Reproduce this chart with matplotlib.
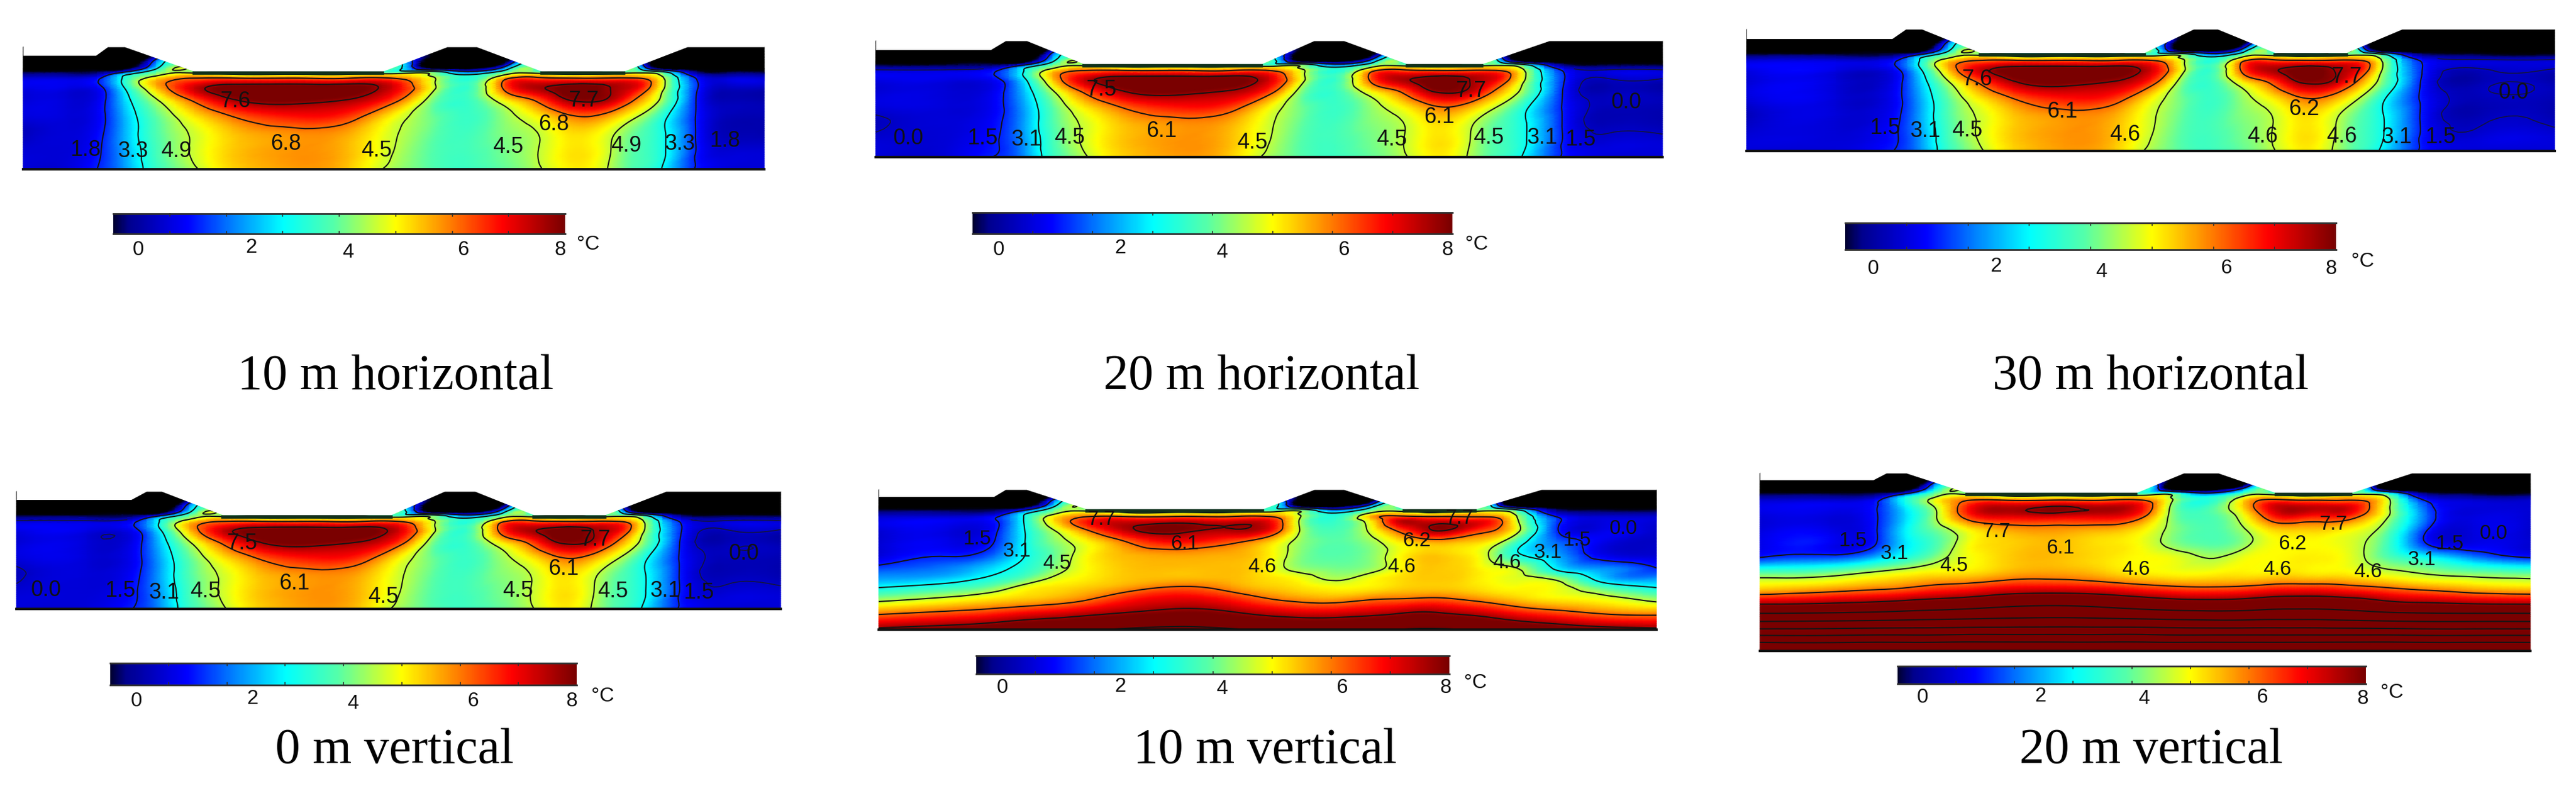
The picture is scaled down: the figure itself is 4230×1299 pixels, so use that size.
import numpy as np
import matplotlib
matplotlib.use("Agg")
import matplotlib.pyplot as plt
import matplotlib.tri as mtri
from matplotlib.colors import LinearSegmentedColormap, Normalize

plt.rcParams["font.family"] = ["Liberation Sans", "DejaVu Sans"]

# temperature columns, as fractions of the width of the 20 m horizontal panel
columns = [0, .09, .148, .19, .225, .265, .31, .38, .45, .50, .54, .585, .63, .665, .70, .725, .755, .79, .824, .875, .93, 1]

rows_h = [0, .10, .17, .205, .225, .25, .28, .35, .45, .58, .72, .88, 1]
T_horizontal = [
    [-3] * 22,
    [-3, -3, -3, -3, 1.5, 3.0, 0, 0, 0, 3.0, -1, -3, -1, 3.0, 0, 0, 3.0, 2.0, -3, -3, -3, -3],
    [-1, -1, -1, -.8, 2.8, 4.0, 0, 0, 0, 4.0, -.8, -1, 2.0, 4.0, 0, 0, 4.0, 3.2, -1, -1, -1, -1],
    [0, 0, .1, 1.3, 3.9, 4.2, 3.2, 3.2, 3.2, 3.6, 3.8, 1.8, 3.8, 4.2, 3.2, 3.2, 3.6, 4.2, 3.2, .2, 0, 0],
    [.3, .3, .5, 2.7, 4.3, 5.2, 4.7, 4.7, 4.7, 5.0, 4.5, 3.0, 4.5, 5.2, 4.7, 4.7, 5.0, 5.2, 4.2, .7, .3, .3],
    [.8, .8, 1.2, 3.2, 5.0, 6.0, 5.9, 5.9, 5.9, 5.9, 4.8, 3.4, 5.5, 6.2, 5.9, 5.9, 6.0, 5.9, 4.6, 1.3, .8, .8],
    [1.15, 1.15, 1.45, 3.3, 5.6, 6.6, 7.0, 7.0, 7.0, 6.8, 4.9, 3.5, 6.3, 7.0, 7.0, 7.0, 7.0, 6.8, 4.8, 1.5, 1.0, 1.0],
    [1.0, 1.0, 1.15, 2.9, 5.3, 7.3, 8.2, 8.4, 8.2, 7.2, 4.9, 3.6, 6.2, 7.4, 8.1, 8.3, 7.7, 6.8, 4.6, 1.5, .65, .6],
    [.95, .95, 1.15, 2.6, 4.4, 6.1, 7.4, 7.9, 7.5, 6.3, 4.2, 3.6, 4.9, 5.9, 7.3, 7.7, 7.3, 5.7, 4.2, 1.4, .65, .6],
    [.95, .95, 1.2, 2.4, 3.9, 5.1, 6.0, 6.7, 6.4, 5.0, 4.1, 3.6, 4.3, 4.9, 5.7, 6.0, 5.5, 4.5, 3.3, 1.4, .65, .6],
    [.68, .95, 1.3, 2.4, 3.8, 4.7, 5.4, 5.8, 5.6, 4.7, 4.0, 3.7, 4.2, 4.5, 5.1, 5.2, 4.7, 3.9, 3.2, 1.4, .65, .6],
    [.95, .95, 1.4, 2.3, 3.7, 4.7, 5.4, 5.8, 5.5, 4.6, 3.9, 3.7, 4.1, 4.5, 5.1, 5.2, 4.6, 3.8, 3.2, 1.4, .95, .95],
    [.95, .95, 1.5, 2.2, 3.6, 4.5, 5.3, 5.7, 5.4, 4.4, 3.9, 3.6, 4.0, 4.4, 5.0, 5.1, 4.5, 3.7, 3.0, 1.4, .95, .95],
]

rows_v10 = [0, .07, .115, .145, .165, .19, .23, .30, .38, .47, .56, .63, .70, .78, .88, 1]
T_v10 = [
    [-3] * 22,
    [-3, -3, -3, -3, 1.5, 3.0, 0, 0, 0, 3.0, -1, -3, -1, 3.0, 0, 0, 3.0, 2.0, -3, -3, -3, -3],
    [-1, -1, -1, -.8, 2.8, 4.0, 0, 0, 0, 4.0, -.8, -1, 2.0, 4.0, 0, 0, 4.0, 3.2, -1, -1, -1, -1],
    [0, 0, .1, 1.3, 3.9, 4.2, 3.2, 3.2, 3.2, 3.6, 3.8, 1.8, 3.8, 4.2, 3.2, 3.2, 3.6, 4.2, 3.2, .2, 0, 0],
    [.3, .3, .5, 2.7, 4.3, 5.2, 4.7, 4.7, 4.7, 5.0, 4.5, 3.0, 4.5, 5.2, 4.7, 4.7, 5.0, 5.2, 4.2, .7, .3, .3],
    [.8, .8, 1.3, 3.2, 5.0, 6.0, 6.0, 6.0, 6.0, 6.0, 4.6, 3.4, 5.5, 6.2, 6.0, 6.0, 6.0, 5.9, 4.6, 1.4, .8, .8],
    [1.1, 1.2, 1.4, 3.2, 5.2, 6.8, 7.3, 7.5, 7.3, 7.0, 4.4, 3.6, 5.0, 7.2, 7.4, 7.4, 7.2, 6.8, 4.8, 1.7, 1.0, .9],
    [.9, 1.0, 1.4, 3.1, 4.5, 5.9, 7.2, 7.9, 7.5, 6.8, 4.5, 3.8, 4.7, 6.0, 7.2, 7.6, 6.9, 6.1, 4.8, 1.6, 1.1, .8],
    [.9, 1.1, 1.55, 3.1, 4.2, 5.0, 5.9, 6.8, 6.2, 5.3, 4.3, 3.9, 4.3, 5.0, 5.5, 5.6, 5.4, 5.0, 3.6, 2.0, 1.15, .8],
    [.95, 1.45, 2.0, 3.1, 4.0, 5.0, 5.5, 5.7, 5.6, 5.1, 4.2, 3.9, 4.2, 4.9, 5.4, 5.4, 5.2, 4.5, 3.3, 2.4, 1.2, .9],
    [1.7, 2.1, 2.8, 3.4, 4.2, 5.0, 5.4, 5.5, 5.5, 5.0, 4.3, 4.1, 4.3, 4.9, 5.4, 5.4, 5.3, 4.9, 4.6, 2.9, 2.2, 1.5],
    [2.3, 2.6, 3.3, 3.9, 4.7, 5.1, 5.4, 5.5, 5.5, 5.2, 4.9, 4.45, 4.9, 5.2, 5.4, 5.4, 5.3, 5.0, 4.8, 4.3, 2.7, 2.2],
    [3.1, 3.6, 4.2, 4.9, 5.2, 5.4, 5.7, 6.2, 5.8, 5.4, 5.2, 5.0, 5.1, 5.3, 5.4, 5.4, 5.3, 5.1, 5.0, 4.9, 3.9, 3.1],
    [4.3, 4.8, 5.2, 5.4, 5.6, 6.0, 6.6, 7.1, 6.7, 6.1, 5.8, 5.7, 6.0, 6.1, 6.2, 6.2, 6.0, 5.7, 5.4, 5.1, 4.9, 4.3],
    [5.9, 6.3, 6.6, 6.9, 7.1, 7.4, 7.7, 8.0, 7.8, 7.4, 7.2, 7.2, 7.4, 7.6, 7.8, 7.7, 7.5, 7.2, 6.8, 6.4, 6.0, 5.8],
    [7.9, 8.2, 8.5, 8.7, 8.9, 9.1, 9.3, 9.5, 9.3, 9.1, 9.0, 8.9, 9.1, 9.2, 9.3, 9.3, 9.2, 9.0, 8.7, 8.4, 8.1, 7.9],
]

rows_v20 = [0, .055, .09, .115, .13, .15, .18, .24, .32, .40, .48, .56, .64, .72, .82, .91, 1]
T_v20 = [
    [-3] * 22,
    [-3, -3, -3, -3, 1.5, 3.0, 0, 0, 0, 3.0, -1, -3, -1, 3.0, 0, 0, 3.0, 2.0, -3, -3, -3, -3],
    [-1, -1, -1, -.8, 2.8, 4.0, 0, 0, 0, 4.0, -.8, -1, 2.0, 4.0, 0, 0, 4.0, 3.2, -1, -1, -1, -1],
    [0, 0, .1, 1.3, 3.9, 4.2, 3.2, 3.2, 3.2, 3.6, 3.8, 1.8, 3.8, 4.2, 3.2, 3.2, 3.6, 4.2, 3.2, .2, 0, 0],
    [.3, .3, .5, 2.7, 4.3, 5.2, 4.7, 4.7, 4.7, 5.0, 4.5, 3.0, 4.5, 5.2, 4.7, 4.7, 5.0, 5.2, 4.2, .7, .3, .3],
    [.8, .8, 1.2, 3.2, 4.8, 6.0, 6.0, 6.0, 6.0, 6.0, 4.6, 3.4, 5.2, 6.2, 6.0, 6.0, 6.0, 5.9, 4.6, 1.3, .8, .8],
    [1.1, 1.2, 1.4, 3.0, 4.6, 6.6, 7.3, 7.5, 7.3, 6.8, 4.4, 3.6, 5.4, 7.0, 7.3, 7.2, 7.1, 6.4, 4.6, 1.7, 1.0, .9],
    [1.0, 1.0, 1.4, 2.7, 4.3, 6.5, 7.2, 7.3, 7.2, 6.3, 4.3, 3.8, 4.9, 6.5, 7.1, 6.8, 6.9, 5.9, 4.5, 1.9, 1.0, .9],
    [1.0, 1.1, 1.4, 2.9, 4.0, 5.0, 5.6, 5.8, 5.6, 5.1, 4.3, 3.8, 4.4, 5.2, 5.4, 5.4, 5.2, 4.8, 3.9, 1.5, 1.0, .85],
    [1.1, 1.2, 1.45, 2.8, 3.7, 4.9, 5.3, 5.5, 5.2, 4.9, 4.3, 3.9, 4.3, 4.9, 5.0, 5.0, 4.9, 4.5, 3.6, 1.5, 1.1, .9],
    [1.6, 1.9, 2.6, 3.4, 4.2, 4.9, 5.3, 5.5, 5.2, 5.0, 4.9, 4.5, 4.9, 5.0, 5.1, 5.1, 5.0, 4.5, 3.9, 3.2, 2.3, 1.6],
    [3.9, 4.1, 4.6, 4.9, 5.1, 5.2, 5.5, 5.7, 5.4, 5.1, 5.0, 5.0, 5.1, 5.1, 5.2, 5.1, 5.1, 4.9, 4.7, 4.4, 4.1, 3.9],
    [5.2, 5.5, 5.8, 6.0, 6.3, 6.5, 6.8, 6.9, 6.7, 6.4, 6.2, 6.1, 6.2, 6.4, 6.5, 6.5, 6.4, 6.2, 6.0, 5.7, 5.4, 5.2],
    [7.2, 7.4, 7.6, 7.8, 8.0, 8.2, 8.5, 8.7, 8.5, 8.2, 8.0, 7.9, 8.0, 8.2, 8.3, 8.3, 8.2, 8.0, 7.7, 7.5, 7.3, 7.2],
    [10.2, 10.3, 10.4, 10.5, 10.6, 10.7, 10.8, 10.9, 10.8, 10.7, 10.6, 10.5, 10.5, 10.6, 10.6, 10.6, 10.5, 10.4, 10.3, 10.2, 10.2, 10.2],
    [13.7, 13.7, 13.8, 13.8, 13.8, 13.9, 13.9, 13.9, 13.9, 13.9, 13.8, 13.8, 13.8, 13.8, 13.8, 13.8, 13.8, 13.8, 13.8, 13.7, 13.7, 13.7],
    [16.9] * 22,
]

levels_main = [1.5, 3.1, 4.6, 6.1, 7.7, 9.2]
levels_deep = [1.5, 4.5, 6.1, 7.7, 9.2, 10.7, 12.3, 13.8, 15.3]
level_cold = .78

# terrain break points as fractions of panel width; the first set is the reference
land_ref = [0, .146, .165, .192, .265, .49, .557, .595, .676, .77, .856, 1]

captions = ["10 m horizontal", "20 m horizontal", "30 m horizontal", "0 m vertical", "10 m vertical", "20 m vertical"]
tick_names = ["0", "2", "4", "6", "8"]

labels_1 = ["1.8", "3.3", "4.9", "7.6", "6.8", "4.5", "7.7", "6.8", "4.5", "4.9", "3.3", "1.8"]
labels_2 = ["1.5", "3.1", "4.5", "7.5", "6.1", "4.5", "7.7", "6.1", "4.5", "4.5", "3.1", "1.5", "0.0", "0.0"]
labels_3 = ["1.5", "3.1", "4.5", "7.6", "6.1", "4.6", "4.6", "6.2", "7.7", "4.6", "3.1", "1.5", "0.0"]
labels_4 = ["0.0", "1.5", "3.1", "4.5", "7.5", "6.1", "4.5", "7.7", "6.1", "4.5", "4.5", "3.1", "1.5", "0.0"]
labels_5 = ["1.5", "3.1", "4.5", "7.7", "6.1", "4.6", "4.6", "6.2", "7.7", "4.6", "3.1", "1.5", "0.0"]
labels_6 = ["1.5", "3.1", "4.5", "7.7", "6.1", "4.6", "4.6", "6.2", "7.7", "4.6", "3.1", "1.5", "0.0"]

panels = [
    dict(box=(38, 77, 1255, 278), T=T_horizontal, rows=rows_h, levels=levels_main, cold_from=None, size=26,
         land=[0, .098, .114, .137, .231, .485, .572, .612, .70, .81, .896, 1], pond=.2, bench=.07,
         bar=(186, 351, 928, 384), labels=labels_1,
         lab_xy=[(140, 246), (219, 248), (289, 248), (386, 166), (469, 236), (618, 247), (958, 165), (909, 204), (834, 241), (1028, 239), (1117, 236), (1190, 231)],
         tick_xy=[(227, 410), (413, 406), (572, 414), (761, 410), (920, 410)], unit_xy=(966, 401), cap_xy=(650, 619)),
    dict(box=(1438, 67, 2730, 258), T=T_horizontal, rows=rows_h, levels=levels_main, cold_from=0, size=26,
         land=land_ref, pond=.2, bench=.077,
         bar=(1597, 349, 2385, 384), labels=labels_2,
         lab_xy=[(1613, 227), (1686, 229), (1756, 226), (1808, 147), (1907, 215), (2056, 234), (2415, 149), (2363, 192), (2285, 229), (2444, 226), (2533, 226), (2595, 229), (2671, 168), (1492, 227)],
         tick_xy=[(1640, 410), (1840, 407), (2007, 414), (2207, 410), (2377, 410)], unit_xy=(2425, 401), cap_xy=(2072, 619)),
    dict(box=(2868, 48, 4195, 248), T=T_horizontal, rows=rows_h, levels=levels_main, cold_from=.5, size=26,
         land=[0, .18, .197, .217, .289, .492, .553, .583, .654, .742, .811, 1], pond=.193, bench=.078,
         bar=(3030, 366, 3836, 410), labels=labels_3,
         lab_xy=[(3095, 210), (3162, 215), (3230, 214), (3246, 130), (3386, 183), (3489, 221), (3715, 224), (3783, 179), (3853, 126), (3845, 224), (3936, 225), (4007, 225), (4128, 152)],
         tick_xy=[(3076, 441), (3278, 437), (3451, 446), (3656, 440), (3828, 441)], unit_xy=(3880, 429), cap_xy=(3532, 619)),
    dict(box=(27, 807, 1282, 1000), T=T_horizontal, rows=rows_h, levels=levels_main, cold_from=0, size=26,
         land=[0, .15, .17, .19, .27, .49, .56, .60, .677, .77, .85, 1], pond=.2, bench=.07,
         bar=(181, 1089, 947, 1125), labels=labels_4,
         lab_xy=[(76, 969), (197, 970), (270, 973), (337, 971), (397, 892), (483, 958), (629, 980), (977, 886), (925, 934), (850, 970), (1006, 971), (1093, 970), (1147, 973), (1222, 909)],
         tick_xy=[(224, 1152), (415, 1148), (580, 1155), (777, 1152), (939, 1152)], unit_xy=(990, 1143), cap_xy=(648, 1233)),
    dict(box=(1443, 804, 2720, 1034), T=T_v10, rows=rows_v10, levels=levels_main, cold_from=None, size=24,
         land=[0, .148, .163, .19, .268, .493, .56, .598, .676, .767, .852, 1], pond=.14, bench=.05,
         bar=(1603, 1077, 2380, 1107), labels=labels_5,
         lab_xy=[(1605, 885), (1670, 905), (1735, 925), (1808, 853), (1945, 893), (2072, 931), (2301, 931), (2326, 888), (2396, 851), (2474, 924), (2542, 907), (2590, 887), (2666, 868)],
         tick_xy=[(1646, 1130), (1840, 1127), (2007, 1132), (2204, 1130), (2374, 1130)], unit_xy=(2423, 1121), cap_xy=(2077, 1233)),
    dict(box=(2890, 777, 4155, 1069), T=T_v20, rows=rows_v20, levels=levels_deep, cold_from=None, size=24,
         land=[0, .147, .164, .19, .269, .488, .55, .595, .67, .767, .846, 1], pond=.111, bench=.038,
         bar=(3116, 1094, 3885, 1123), labels=labels_6,
         lab_xy=[(3043, 888), (3111, 909), (3208, 929), (3278, 873), (3383, 900), (3507, 935), (3739, 935), (3764, 893), (3831, 861), (3888, 939), (3977, 919), (4023, 893), (4095, 876)],
         tick_xy=[(3157, 1146), (3351, 1143), (3521, 1148), (3715, 1146), (3880, 1147)], unit_xy=(3928, 1138), cap_xy=(3532, 1233)),
]

# colour scale of the temperature bar, below zero it runs out to black
vmin, vmax = -.6, 8.0
anchors = [(-.6, "#000000"), (-.1, "#000010"), (.25, "#00008c"), (1.3, "#0000ff"), (2.1, "#0080ff"),
           (3.0, "#00ffff"), (3.9, "#55ffaa"), (5.0, "#ffff00"), (5.75, "#ff9c00"), (6.9, "#ff0000"), (8.0, "#7a0000")]
cmap = LinearSegmentedColormap.from_list("temp", [((v - vmin) / (vmax - vmin), c) for v, c in anchors], N=512)
norm = Normalize(vmin, vmax)

fig = plt.figure(figsize=(42.3, 12.99), dpi=100)
ax = fig.add_axes([0, 0, 1, 1])


def draw_panel(p):
    x0, y0, x1, y1 = p["box"]
    w, h = x1 - x0, y1 - y0
    xs = x0 + w * np.interp(columns, land_ref, p["land"])
    ys = y0 + h * np.array(p["rows"])
    gx, gy = np.meshgrid(xs, ys)
    nx, ny = len(xs), len(ys)
    tris = []
    for j in range(ny - 1):
        for i in range(nx - 1):
            a = j * nx + i
            tris.append([a, a + 1, a + nx])
            tris.append([a + 1, a + nx + 1, a + nx])
    tri = mtri.Triangulation(gx.ravel(), gy.ravel(), tris)
    refiner = mtri.UniformTriRefiner(tri)
    fine, z = refiner.refine_field(np.array(p["T"], dtype=float).ravel(), subdiv=3)
    ax.tripcolor(fine, z, shading="gouraud", cmap=cmap, norm=norm, zorder=1)
    ax.tricontour(fine, z, levels=p["levels"], colors="#141414", linewidths=1.5, zorder=2)

    # the coldest contour only shows below the surface layer
    if p["cold_from"] is not None:
        cy = fine.y[fine.triangles].mean(axis=1)
        cx = fine.x[fine.triangles].mean(axis=1)
        mask = (cy < y0 + .24 * h) | (cx < x0 + p["cold_from"] * w)
        cold = mtri.Triangulation(fine.x, fine.y, fine.triangles, mask=mask)
        ax.tricontour(cold, z, levels=[level_cold], colors="#141440", linewidths=1.2, zorder=2)

    # white sky above the ground surface
    lx = x0 + w * np.array(p["land"])
    b, d = p["bench"], p["pond"]
    ly = y0 + h * np.array([b, b, 0, 0, d, d, 0, 0, d, d, 0, 0])
    ax.fill_between(lx, y0 - 3, ly, color="white", lw=0, zorder=3)
    ax.plot(lx[4:6], ly[4:6] + 3, color="#10301a", lw=4, zorder=4)
    ax.plot(lx[8:10], ly[8:10] + 3, color="#10301a", lw=4, zorder=4)
    ax.plot([x0, x1], [y1, y1], color="#101010", lw=3, zorder=4)

    for s, (tx, ty) in zip(p["labels"], p["lab_xy"]):
        ax.text(tx, ty, s, fontsize=p["size"], ha="center", va="center", color="#111111", zorder=5)


def draw_bar(p):
    bx0, by0, bx1, by1 = p["bar"]
    grad = np.linspace(0, 8, 512).reshape(1, -1)
    ax.imshow(grad, extent=(bx0, bx1, by1, by0), aspect="auto", cmap=cmap, norm=norm, zorder=1)
    ax.plot([bx0, bx1], [by0, by0], color="#303030", lw=2, zorder=2)
    ax.plot([bx0, bx1], [by1, by1], color="#303030", lw=2, zorder=2)
    for k in range(1, 8):
        bx = bx0 + (bx1 - bx0) * k / 8
        ax.plot([bx, bx], [by0, by0 + 4], color="#303030", lw=1.2, zorder=2)
        ax.plot([bx, bx], [by1 - 4, by1], color="#303030", lw=1.2, zorder=2)
    for s, (tx, ty) in zip(tick_names, p["tick_xy"]):
        ax.text(tx, ty, s, fontsize=24, ha="center", va="center", color="#111111")
    ax.text(p["unit_xy"][0], p["unit_xy"][1], "°C", fontsize=24, ha="center", va="center", color="#111111")


for p, cap in zip(panels, captions):
    draw_panel(p)
    draw_bar(p)
    ax.text(p["cap_xy"][0], p["cap_xy"][1], cap, fontsize=59, family=["Liberation Serif", "DejaVu Serif"],
            ha="center", va="center", color="black")

ax.set_xlim(0, 4230)
ax.set_ylim(1299, 0)
ax.axis("off")
fig.savefig("out.png", dpi=100, facecolor="white")
